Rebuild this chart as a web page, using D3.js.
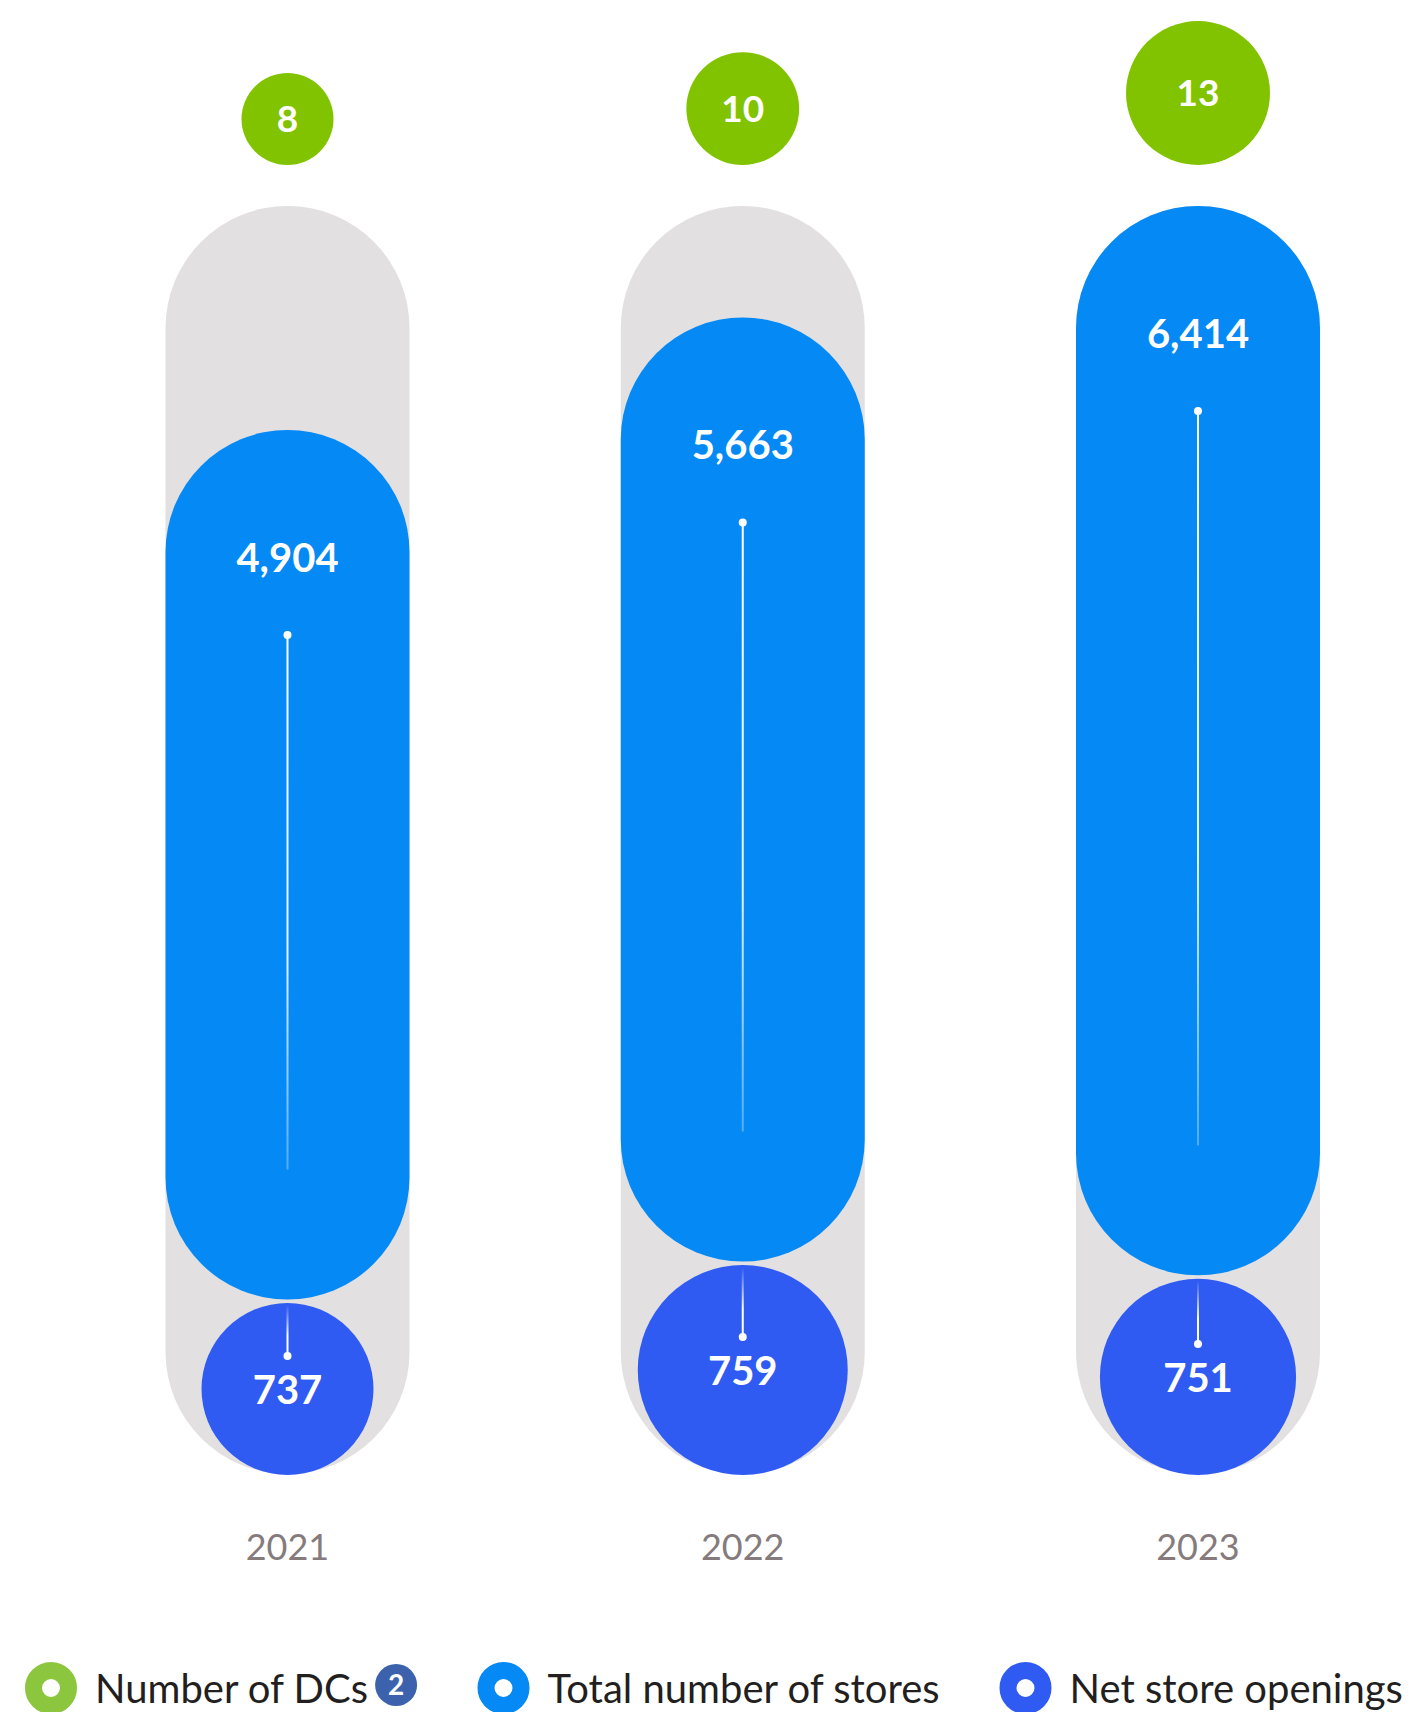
<!DOCTYPE html>
<html>
<head>
<meta charset="utf-8">
<script src="https://cdn.jsdelivr.net/npm/d3@7"></script>
<style>
  body { margin: 0; background: #fff; }
  svg text { font-family: Lato, "Open Sans", sans-serif; }
</style>
</head>
<body>
<div class="chart"></div>
<script>
// data
var years = ["2021", "2022", "2023"];
var dcCount = [8, 10, 13];
var totalStores = [4904, 5663, 6414];
var netOpenings = [737, 759, 751];
var legendLabels = ["Number of DCs", "Total number of stores", "Net store openings"];
var footnote = "2";

var width = 1413, height = 1712;
var green = "#82c300", blue = "#0589f5", purple = "#2f5bf2", grey = "#e3e0e1";

var svg = d3.select(".chart")
    .append("svg")
    .attr("width", width)
    .attr("height", height);

var rows = years.map(function (y, i) {
    return { year: y, dc: dcCount[i], total: totalStores[i], net: netOpenings[i] };
});

// column centres
var x = d3.scalePoint()
    .domain(years)
    .range([287.5, 1198]);

// top of the blue pill
var y = d3.scaleLinear()
    .domain([4904, 6414])
    .range([430, 206]);

var rDc = d3.scaleLinear().domain([8, 13]).range([46, 72]);
var rNet = d3.scaleLinear().domain([737, 759]).range([86, 105]);

var barW = 244;
var baseY = 1475;      // bottom of the grey track / purple circles
var dcBottom = 165;

// gradients for the thin connector lines
var defs = svg.append("defs");
var gDown = defs.append("linearGradient").attr("id", "fadeDown")
    .attr("x1", 0).attr("y1", 0).attr("x2", 0).attr("y2", 1);
gDown.append("stop").attr("offset", "0").attr("stop-color", "#fff").attr("stop-opacity", 1);
gDown.append("stop").attr("offset", "0.6").attr("stop-color", "#fff").attr("stop-opacity", 0.9);
gDown.append("stop").attr("offset", "1").attr("stop-color", "#fff").attr("stop-opacity", 0.3);
var gUp = defs.append("linearGradient").attr("id", "fadeUp")
    .attr("x1", 0).attr("y1", 0).attr("x2", 0).attr("y2", 1);
gUp.append("stop").attr("offset", "0").attr("stop-color", "#fff").attr("stop-opacity", 0);
gUp.append("stop").attr("offset", "0.6").attr("stop-color", "#fff").attr("stop-opacity", 1);
gUp.append("stop").attr("offset", "1").attr("stop-color", "#fff").attr("stop-opacity", 1);

var col = svg.selectAll("g.col")
    .data(rows)
    .enter()
    .append("g")
    .attr("class", "col")
    .attr("transform", function (d) { return "translate(" + x(d.year) + ",0)"; });

// grey track
col.append("rect")
    .attr("x", -barW / 2)
    .attr("y", y(6414))
    .attr("width", barW)
    .attr("height", function () { return baseY - 1 - y(6414); })
    .attr("rx", barW / 2)
    .style("fill", grey);

// blue pill (total stores)
function blueBottom(d) { return baseY - 2 * rNet(d.net) - 3.5; }
col.append("rect")
    .attr("x", -barW / 2)
    .attr("y", function (d) { return y(d.total); })
    .attr("width", barW)
    .attr("height", function (d) { return blueBottom(d) - y(d.total); })
    .attr("rx", barW / 2)
    .style("fill", blue);

col.append("rect")
    .attr("x", -1)
    .attr("y", function (d) { return y(d.total) + 205; })
    .attr("width", 2)
    .attr("height", function (d) { return blueBottom(d) - 130 - (y(d.total) + 205); })
    .style("fill", "url(#fadeDown)");

col.append("circle")
    .attr("cy", function (d) { return y(d.total) + 205; })
    .attr("r", 4)
    .style("fill", "#fff");

col.append("text")
    .attr("y", function (d) { return y(d.total) + 142; })
    .attr("text-anchor", "middle")
    .style("font-size", "40px")
    .style("font-weight", 700)
    .style("fill", "#fff")
    .text(function (d) { return d3.format(",")(d.total); });

// purple circle (net openings)
col.append("circle")
    .attr("cy", function (d) { return baseY - rNet(d.net); })
    .attr("r", function (d) { return rNet(d.net); })
    .style("fill", purple);

col.append("rect")
    .attr("x", -1)
    .attr("y", function (d) { return baseY - 2 * rNet(d.net) + 2; })
    .attr("width", 2)
    .attr("height", function (d) { return rNet(d.net) - 35; })
    .style("fill", "url(#fadeUp)");

col.append("circle")
    .attr("cy", function (d) { return baseY - rNet(d.net) - 33; })
    .attr("r", 4)
    .style("fill", "#fff");

col.append("text")
    .attr("y", function (d) { return baseY - rNet(d.net) + 15; })
    .attr("text-anchor", "middle")
    .style("font-size", "40px")
    .style("font-weight", 700)
    .style("fill", "#fff")
    .text(function (d) { return d.net; });

// green bubble (DCs)
col.append("circle")
    .attr("cy", function (d) { return dcBottom - rDc(d.dc); })
    .attr("r", function (d) { return rDc(d.dc); })
    .style("fill", green);

col.append("text")
    .attr("y", function (d) { return dcBottom - rDc(d.dc) + 13; })
    .attr("text-anchor", "middle")
    .style("font-size", "37px")
    .style("font-weight", 700)
    .style("fill", "#fff")
    .text(function (d) { return d.dc; });

// year labels
col.append("text")
    .attr("y", 1560)
    .attr("text-anchor", "middle")
    .style("font-size", "36px")
    .style("fill", "#857b7c")
    .text(function (d) { return d.year; });

// legend
var legendX = [51, 503.5, 1025.5];
var legendColors = ["#8cc63f", "#0589f5", "#2f5bf2"];
var legendY = 1688;

var item = svg.selectAll("g.legend")
    .data(legendLabels)
    .enter()
    .append("g")
    .attr("class", "legend")
    .attr("transform", function (d, i) { return "translate(" + legendX[i] + "," + legendY + ")"; });

item.append("circle")
    .attr("r", 17.5)
    .style("fill", "none")
    .style("stroke", function (d, i) { return legendColors[i]; })
    .style("stroke-width", 17);

item.append("text")
    .attr("x", 44)
    .attr("y", 15)
    .style("font-size", "40px")
    .style("fill", "#231f20")
    .text(function (d) { return d; });

// footnote badge after the first label
var firstText = item.filter(function (d, i) { return i === 0; }).select("text");
var tw = firstText.node().getComputedTextLength();
var badge = item.filter(function (d, i) { return i === 0; })
    .append("g")
    .attr("transform", "translate(" + (44 + tw + 28) + ",-3)");
badge.append("circle").attr("r", 21).style("fill", "#3c62ad");
badge.append("text")
    .attr("y", 10)
    .attr("text-anchor", "middle")
    .style("font-size", "28px")
    .style("font-weight", 700)
    .style("fill", "#fff")
    .text(footnote);
</script>
</body>
</html>
